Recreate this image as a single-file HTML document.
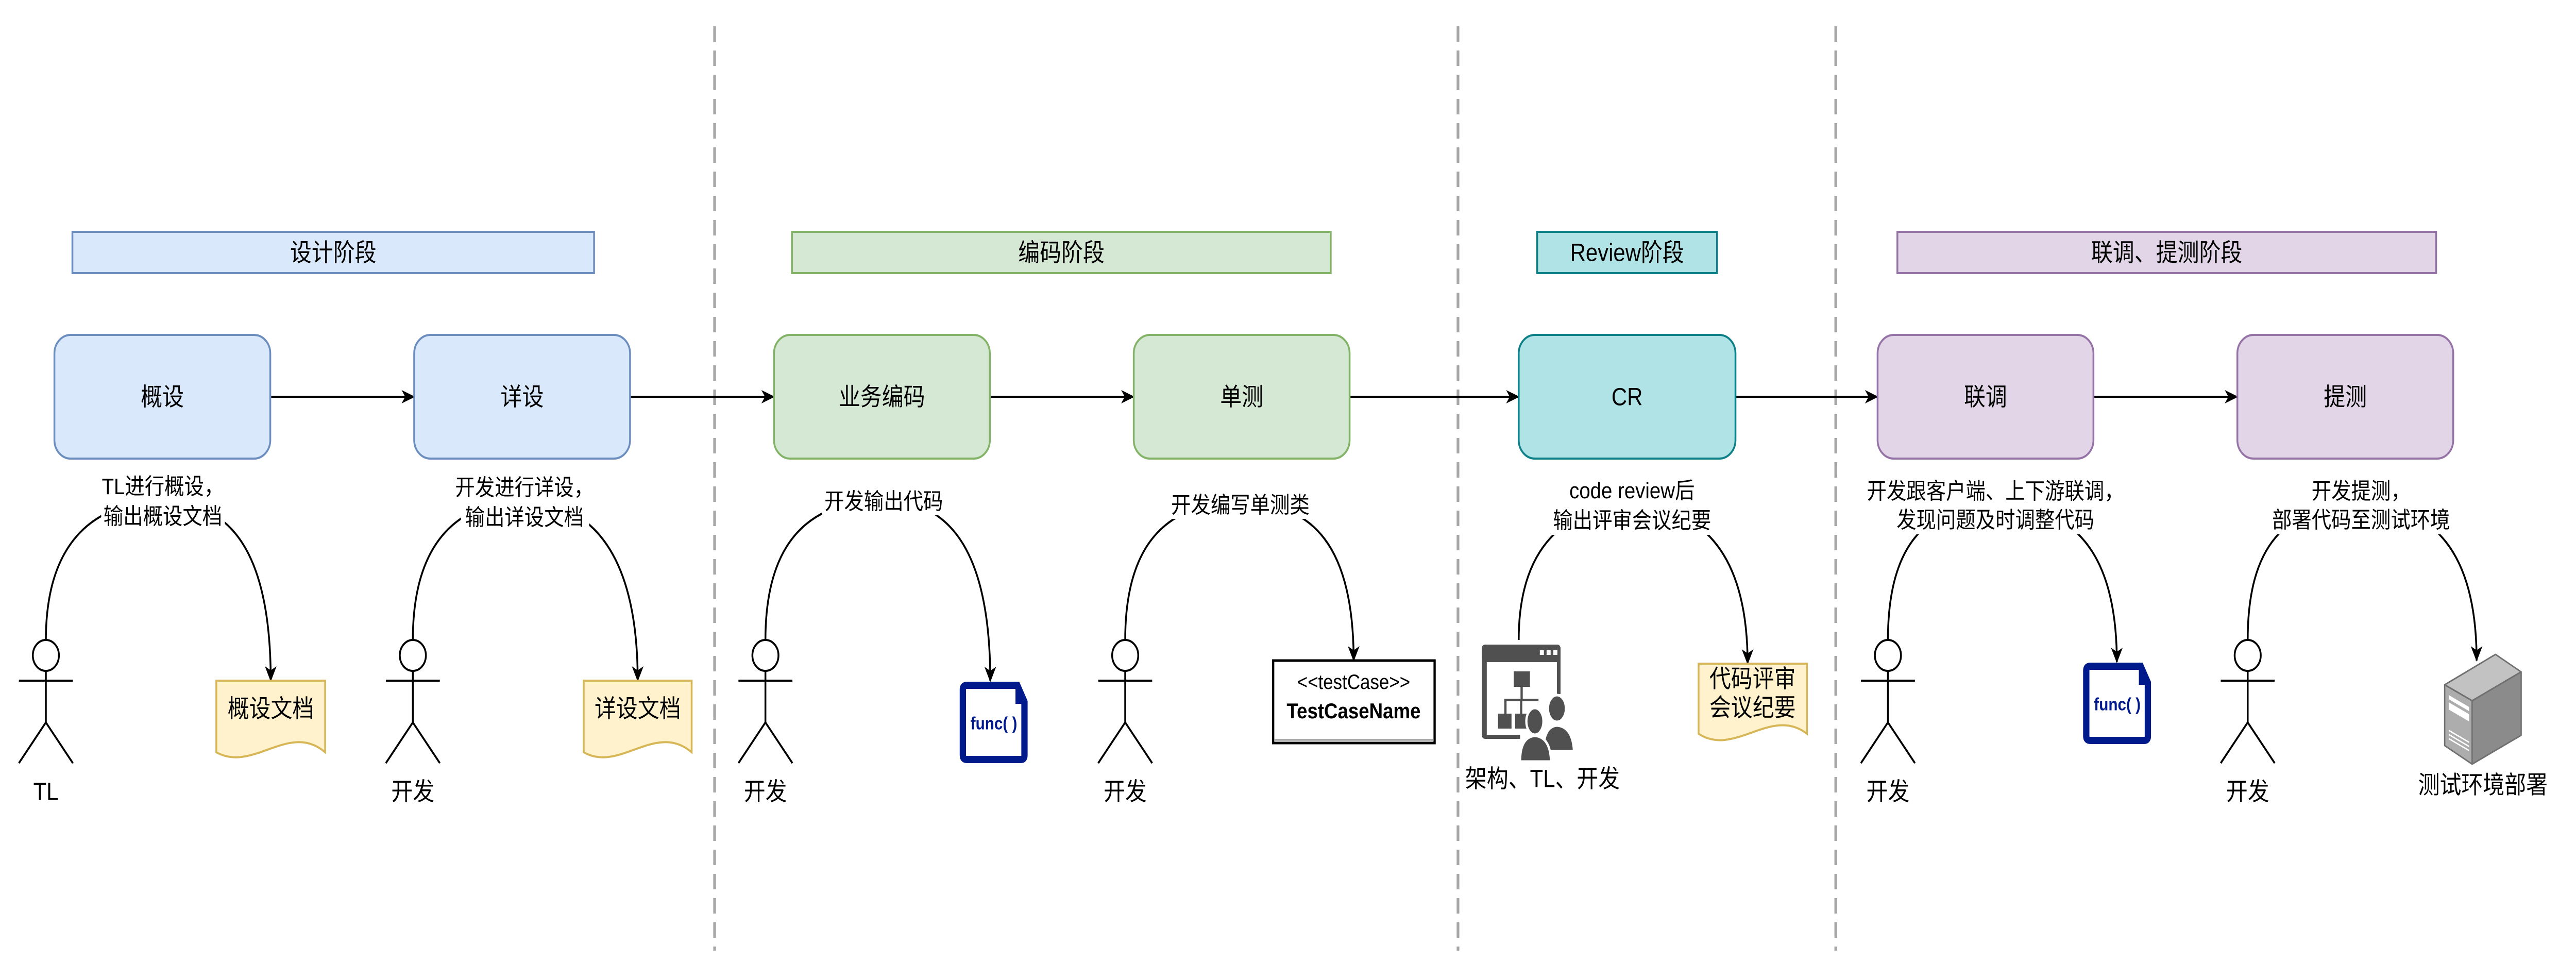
<!DOCTYPE html>
<html><head><meta charset="utf-8">
<style>
html,body{margin:0;padding:0;background:#fff;width:100%;height:100%;overflow:hidden;}
svg{display:block;width:100vw;height:100vh;}
text{font-family:"Liberation Sans","Noto Sans CJK SC",sans-serif;fill:#000;}
</style></head><body>
<svg viewBox="0 0 5728 1900" preserveAspectRatio="none" xmlns="http://www.w3.org/2000/svg">
<defs>
<marker id="ar" viewBox="0 0 30 30" refX="28" refY="15" markerWidth="30" markerHeight="30" markerUnits="userSpaceOnUse" orient="auto">
<path d="M0,2 L30,15 L0,28 L8,15 Z" fill="#000"/>
</marker>
</defs>

<g stroke="#a6a6a6" stroke-width="6" stroke-dasharray="30,17">
<line x1="1589" y1="51" x2="1589" y2="1845"/>
<line x1="3242" y1="51" x2="3242" y2="1845"/>
<line x1="4082" y1="51" x2="4082" y2="1845"/>
</g>

<g stroke-width="4">
<rect x="161" y="450" width="1160" height="80" fill="#dae8fc" stroke="#6c8ebf"/>
<rect x="1761" y="450" width="1198" height="80" fill="#d5e8d4" stroke="#82b366"/>
<rect x="3418" y="450" width="400" height="80" fill="#b0e3e6" stroke="#0e8088"/>
<rect x="4219" y="450" width="1198" height="80" fill="#e1d5e7" stroke="#9673a6"/>
</g>
<g font-size="48" text-anchor="middle" dominant-baseline="central">
<text x="741" y="490">设计阶段</text>
<text x="2360" y="490">编码阶段</text>
<text x="3618" y="490">Review阶段</text>
<text x="4818" y="490">联调、提测阶段</text>
</g>

<g stroke="#000" stroke-width="4" marker-end="url(#ar)">
<line x1="603" y1="770" x2="921" y2="770"/>
<line x1="1401" y1="770" x2="1721" y2="770"/>
<line x1="2201" y1="770" x2="2521" y2="770"/>
<line x1="3001" y1="770" x2="3377" y2="770"/>
<line x1="3859" y1="770" x2="4175" y2="770"/>
<line x1="4655" y1="770" x2="4975" y2="770"/>
</g>

<g stroke-width="4">
<rect x="121" y="650" width="480" height="240" rx="36" fill="#dae8fc" stroke="#6c8ebf"/>
<rect x="921" y="650" width="480" height="240" rx="36" fill="#dae8fc" stroke="#6c8ebf"/>
<rect x="1721" y="650" width="480" height="240" rx="36" fill="#d5e8d4" stroke="#82b366"/>
<rect x="2521" y="650" width="480" height="240" rx="36" fill="#d5e8d4" stroke="#82b366"/>
<rect x="3377" y="650" width="482" height="240" rx="36" fill="#b0e3e6" stroke="#0e8088"/>
<rect x="4175" y="650" width="480" height="240" rx="36" fill="#e1d5e7" stroke="#9673a6"/>
<rect x="4975" y="650" width="480" height="240" rx="36" fill="#e1d5e7" stroke="#9673a6"/>
</g>
<g font-size="48" text-anchor="middle" dominant-baseline="central">
<text x="361" y="770">概设</text>
<text x="1161" y="770">详设</text>
<text x="1961" y="770">业务编码</text>
<text x="2761" y="770">单测</text>
<text x="3618" y="770">CR</text>
<text x="4415" y="770">联调</text>
<text x="5215" y="770">提测</text>
</g>

<g fill="none" stroke="#000" stroke-width="4" marker-end="url(#ar)">
<path d="M102,1242 C102,1060 200,975 362,972 C520,975 602,1080 602,1321"/>
<path d="M918,1242 C918,1060 1010,975 1163,972 C1320,975 1418,1080 1418,1321"/>
<path d="M1702,1242 C1702,1060 1790,972 1965,970 C2120,972 2202,1080 2202,1322"/>
<path d="M2502,1242 C2502,1060 2590,975 2758,975 C2920,975 3010,1060 3010,1282"/>
<path d="M3377,1242 C3377,1080 3460,985 3629,980 C3790,985 3886,1080 3886,1288"/>
<path d="M4198,1242 C4198,1060 4280,980 4437,980 C4610,980 4707,1070 4707,1285"/>
<path d="M4998,1242 C4998,1060 5080,980 5250,980 C5410,980 5507,1070 5507,1282"/>
</g>

<g fill="#fff">
<rect x="225" y="918" width="275" height="112"/>
<rect x="1025" y="920" width="285" height="112"/>
<rect x="1828" y="945" width="274" height="55"/>
<rect x="2603" y="952" width="310" height="55"/>
<rect x="3435" y="924" width="390" height="114"/>
<rect x="4150" y="925" width="575" height="112"/>
<rect x="5050" y="925" width="400" height="112"/>
</g>
<g font-size="44" text-anchor="middle" dominant-baseline="central">
<text x="362" y="944">TL进行概设，</text>
<text x="362" y="1002">输出概设文档</text>
<text x="1166" y="946">开发进行详设，</text>
<text x="1166" y="1004">输出详设文档</text>
<text x="1965" y="973">开发输出代码</text>
<text x="2758" y="980">开发编写单测类</text>
<text x="3629" y="952">code review后</text>
<text x="3629" y="1010">输出评审会议纪要</text>
<text x="4437" y="953">开发跟客户端、上下游联调，</text>
<text x="4437" y="1009">发现问题及时调整代码</text>
<text x="5250" y="953">开发提测，</text>
<text x="5250" y="1009">部署代码至测试环境</text>
</g>

<g fill="none" stroke="#000" stroke-width="4">
<g id="a1">
<ellipse cx="102" cy="1272" rx="29" ry="30" fill="#fff"/>
<line x1="102" y1="1302" x2="102" y2="1402"/>
<line x1="42" y1="1321" x2="162" y2="1321"/>
<polyline points="42,1481 102,1402 162,1481"/>
</g>
<use href="#a1" x="816"/>
<use href="#a1" x="1600"/>
<use href="#a1" x="2400"/>
<use href="#a1" x="4096"/>
<use href="#a1" x="4896"/>
</g>
<g font-size="48" text-anchor="middle" dominant-baseline="central">
<text x="102" y="1536">TL</text>
<text x="918" y="1536">开发</text>
<text x="1702" y="1536">开发</text>
<text x="2502" y="1536">开发</text>
<text x="4198" y="1536">开发</text>
<text x="4998" y="1536">开发</text>
<text x="3430" y="1511">架构、TL、开发</text>
<text x="5521" y="1523">测试环境部署</text>
</g>

<g fill="#fff2cc" stroke="#d6b656" stroke-width="4">
<path d="M481,1321 H723 V1460 C643,1400 563,1500 481,1460 Z"/>
<path d="M1298,1321 H1538 V1460 C1458,1400 1378,1500 1298,1460 Z"/>
<path d="M3777,1288 H4018 V1424 C3938,1370 3857,1470 3777,1424 Z"/>
</g>
<g font-size="48" text-anchor="middle" dominant-baseline="central">
<text x="602" y="1375">概设文档</text>
<text x="1418" y="1375">详设文档</text>
<text x="3897" y="1317">代码评审</text>
<text x="3897" y="1373">会议纪要</text>
</g>

<g id="f1">
<path d="M2150,1330 H2262 L2278,1362 V1466 Q2278,1474 2270,1474 H2150 Q2141,1474 2141,1466 V1338 Q2141,1330 2150,1330 Z" fill="#fff" stroke="#001a8c" stroke-width="14"/>
<path d="M2258,1326 L2284,1366 H2258 Z" fill="#001a8c"/>
<text x="2210" y="1404" font-size="34" font-weight="bold" text-anchor="middle" dominant-baseline="central" style="fill:#001a8c">func( )</text>
</g>
<use href="#f1" x="2498" y="-37"/>

<rect x="2831" y="1282" width="359" height="160" fill="#fff" stroke="#000" stroke-width="5"/>
<line x1="2833" y1="1436" x2="3188" y2="1436" stroke="#999" stroke-width="3"/>
<g text-anchor="middle" dominant-baseline="central">
<text x="3010" y="1323" font-size="40">&lt;&lt;testCase&gt;&gt;</text>
<text x="3010" y="1380" font-size="42" font-weight="bold">TestCaseName</text>
</g>

<g fill="#505050">
<path d="M3303,1251 H3462 Q3470,1251 3470,1259 V1347 H3462 V1285 H3306 V1426 H3380 V1434 H3303 Q3295,1434 3295,1426 V1259 Q3295,1251 3303,1251 Z"/>
<rect x="3295" y="1251" width="175" height="34" rx="8"/>
<rect x="3424" y="1262" width="9" height="9" fill="#fff"/>
<rect x="3439" y="1262" width="9" height="9" fill="#fff"/>
<rect x="3454" y="1262" width="9" height="9" fill="#fff"/>
<rect x="3366" y="1303" width="36" height="30"/>
<rect x="3381" y="1333" width="5" height="25"/>
<rect x="3345" y="1356" width="76" height="5"/>
<rect x="3345" y="1356" width="5" height="30"/>
<rect x="3380" y="1356" width="5" height="30"/>
<rect x="3331" y="1385" width="30" height="29"/>
<rect x="3369" y="1385" width="30" height="29"/>
<ellipse cx="3462" cy="1375" rx="20" ry="26" stroke="#fff" stroke-width="5"/>
<path d="M3432,1458 Q3432,1410 3462,1408 Q3497,1410 3500,1458 Z" stroke="#fff" stroke-width="5"/>
<ellipse cx="3413" cy="1400" rx="19" ry="26" stroke="#fff" stroke-width="5"/>
<path d="M3380,1478 Q3380,1430 3413,1428 Q3447,1430 3449,1478 Z" stroke="#fff" stroke-width="5"/>
</g>

<g stroke="#707070" stroke-width="3" stroke-linejoin="round">
<polygon points="5436,1329 5549,1270 5606,1304 5497,1360" fill="#c2c2c2"/>
<polygon points="5436,1329 5497,1360 5497,1483 5436,1447" fill="#adadad"/>
<polygon points="5497,1360 5606,1304 5606,1427 5497,1483" fill="#8b8b8b"/>
</g>
<g fill="#fff">
<polygon points="5445,1349 5490,1372 5490,1380 5445,1357"/>
<polygon points="5445,1363 5490,1386 5490,1400 5445,1377"/>
<polygon points="5445,1416 5490,1439 5490,1442 5445,1419"/>
<polygon points="5445,1424 5490,1447 5490,1450 5445,1427"/>
<polygon points="5445,1432 5490,1455 5490,1458 5445,1435"/>
</g>
</svg>
</body></html>
